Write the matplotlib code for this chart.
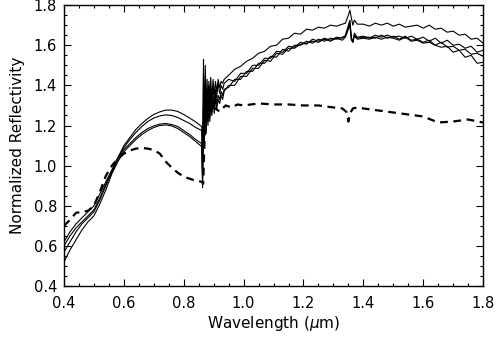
import numpy as np
import matplotlib
matplotlib.use("Agg")
import matplotlib.pyplot as plt
from matplotlib.ticker import MultipleLocator

# wavelength grid for the solid spectra (um)
wl_vis = [0.40, 0.42, 0.44, 0.46, 0.48, 0.50, 0.52, 0.54, 0.56, 0.58, 0.60, 0.62,
          0.64, 0.66, 0.68, 0.70, 0.72, 0.74, 0.76, 0.78, 0.80, 0.82, 0.84, 0.86]
wl_edge = [0.863, 0.866, 0.869, 0.872, 0.875, 0.878, 0.881, 0.884, 0.887, 0.890,
           0.894, 0.898, 0.902, 0.906, 0.910, 0.915, 0.920, 0.925, 0.930, 0.935]
wl_nir = [0.95, 0.97, 0.99, 1.01, 1.03, 1.05, 1.07, 1.09, 1.11, 1.13, 1.15, 1.17,
          1.19, 1.21, 1.23, 1.25, 1.27, 1.29, 1.31, 1.33,
          1.34, 1.35, 1.355, 1.36, 1.365, 1.37, 1.38,
          1.40, 1.42, 1.44, 1.46, 1.48, 1.50, 1.52, 1.54, 1.56, 1.58, 1.60,
          1.62, 1.64, 1.66, 1.68, 1.70, 1.72, 1.74, 1.76, 1.78, 1.80]
wl = wl_vis + wl_edge + wl_nir

refl_a = [0.60, 0.65, 0.69, 0.72, 0.75, 0.78, 0.84, 0.91, 0.97, 1.04, 1.10, 1.14,
          1.18, 1.21, 1.235, 1.255, 1.268, 1.277, 1.277, 1.27, 1.255, 1.237, 1.218, 1.195,
          1.05, 1.45, 1.20, 1.50, 1.25, 1.43, 1.28, 1.42, 1.30, 1.44,
          1.33, 1.43, 1.35, 1.42, 1.37, 1.43, 1.39, 1.42, 1.41, 1.43,
          1.45, 1.48, 1.495, 1.52, 1.535, 1.56, 1.57, 1.595, 1.60, 1.63,
          1.635, 1.66, 1.655, 1.68, 1.675, 1.69, 1.685, 1.70, 1.695, 1.705,
          1.71, 1.75, 1.775, 1.735, 1.70, 1.725, 1.705,
          1.705, 1.695, 1.71, 1.70, 1.71, 1.695, 1.705, 1.69, 1.695, 1.70,
          1.685, 1.70, 1.68, 1.685, 1.665, 1.67, 1.65, 1.655, 1.63, 1.635, 1.61]
refl_b = [0.62, 0.67, 0.71, 0.74, 0.77, 0.80, 0.86, 0.92, 0.98, 1.04, 1.09, 1.13,
          1.165, 1.195, 1.22, 1.237, 1.248, 1.253, 1.25, 1.24, 1.225, 1.21, 1.19, 1.175,
          0.95, 1.53, 1.15, 1.40, 1.22, 1.38, 1.25, 1.40, 1.28, 1.37,
          1.31, 1.40, 1.33, 1.38, 1.34, 1.41, 1.36, 1.40, 1.38, 1.41,
          1.43, 1.42, 1.46, 1.46, 1.50, 1.50, 1.535, 1.535, 1.57, 1.565,
          1.595, 1.59, 1.615, 1.605, 1.63, 1.62, 1.635, 1.625, 1.64, 1.635,
          1.65, 1.70, 1.725, 1.64, 1.615, 1.66, 1.64,
          1.645, 1.635, 1.65, 1.64, 1.65, 1.64, 1.645, 1.635, 1.645, 1.63,
          1.64, 1.62, 1.635, 1.61, 1.625, 1.60, 1.605, 1.585, 1.595, 1.565, 1.575]
refl_c = [0.57, 0.62, 0.67, 0.71, 0.74, 0.77, 0.83, 0.90, 0.97, 1.03, 1.08, 1.11,
          1.14, 1.165, 1.185, 1.198, 1.207, 1.21, 1.205, 1.195, 1.175, 1.155, 1.13, 1.11,
          0.89, 1.30, 1.10, 1.45, 1.18, 1.36, 1.22, 1.33, 1.24, 1.36,
          1.27, 1.35, 1.29, 1.36, 1.31, 1.35, 1.33, 1.37, 1.35, 1.38,
          1.39, 1.43, 1.43, 1.47, 1.47, 1.51, 1.51, 1.545, 1.54, 1.58,
          1.57, 1.60, 1.60, 1.62, 1.61, 1.63, 1.62, 1.635, 1.63, 1.64,
          1.645, 1.69, 1.71, 1.63, 1.62, 1.65, 1.635,
          1.64, 1.64, 1.635, 1.65, 1.635, 1.645, 1.63, 1.645, 1.625, 1.63,
          1.615, 1.625, 1.60, 1.615, 1.59, 1.595, 1.575, 1.58, 1.555, 1.56, 1.545]
refl_d = [0.52, 0.58, 0.63, 0.68, 0.72, 0.75, 0.81, 0.88, 0.96, 1.02, 1.07, 1.10,
          1.13, 1.155, 1.175, 1.19, 1.20, 1.203, 1.198, 1.185, 1.165, 1.145, 1.12, 1.095,
          0.92, 1.20, 1.14, 1.35, 1.16, 1.30, 1.20, 1.32, 1.22, 1.30,
          1.25, 1.33, 1.26, 1.34, 1.28, 1.33, 1.31, 1.35, 1.33, 1.37,
          1.40, 1.40, 1.445, 1.445, 1.485, 1.485, 1.525, 1.52, 1.56, 1.555,
          1.585, 1.585, 1.605, 1.61, 1.62, 1.615, 1.63, 1.62, 1.635, 1.625,
          1.64, 1.68, 1.70, 1.625, 1.615, 1.645, 1.63,
          1.635, 1.63, 1.64, 1.63, 1.64, 1.635, 1.625, 1.64, 1.62, 1.625,
          1.61, 1.615, 1.60, 1.59, 1.595, 1.565, 1.575, 1.54, 1.55, 1.51, 1.515]

# dashed spectrum
wl_dash = [0.40, 0.42, 0.44, 0.46, 0.48, 0.50, 0.52, 0.54, 0.56, 0.58, 0.60, 0.62,
           0.64, 0.66, 0.68, 0.70, 0.72, 0.74, 0.76, 0.78, 0.80, 0.82, 0.84, 0.86,
           0.865, 0.87, 0.875, 0.88, 0.89, 0.90, 0.92, 0.94, 0.96, 0.98, 1.00,
           1.05, 1.10, 1.15, 1.20, 1.25, 1.30, 1.33, 1.345, 1.35, 1.355, 1.365,
           1.38, 1.40, 1.45, 1.50, 1.55, 1.60, 1.65, 1.70, 1.75, 1.80]
refl_dash = [0.70, 0.73, 0.765, 0.77, 0.775, 0.80, 0.87, 0.95, 1.00, 1.035, 1.06, 1.075,
             1.085, 1.088, 1.085, 1.078, 1.06, 1.02, 0.99, 0.965, 0.945, 0.935, 0.925, 0.92,
             0.91, 1.15, 1.30, 1.24, 1.28, 1.29, 1.27, 1.30, 1.29, 1.305, 1.30,
             1.31, 1.305, 1.305, 1.30, 1.30, 1.29, 1.285, 1.265, 1.22, 1.26, 1.285,
             1.29, 1.285, 1.275, 1.265, 1.255, 1.245, 1.215, 1.22, 1.23, 1.215]

fig = plt.figure(figsize=(4.96, 3.39), dpi=100)
ax = fig.add_axes([0.129, 0.156, 0.845, 0.829])

for r in [refl_a, refl_b, refl_c, refl_d]:
    ax.plot(wl, r, color='black', lw=0.8)
ax.plot(wl_dash, refl_dash, color='black', lw=1.6, linestyle=(0, (3.5, 2.5)))

ax.set_xlim(0.4, 1.8)
ax.set_ylim(0.4, 1.8)
ax.xaxis.set_major_locator(MultipleLocator(0.2))
ax.xaxis.set_minor_locator(MultipleLocator(0.05))
ax.yaxis.set_major_locator(MultipleLocator(0.2))
ax.yaxis.set_minor_locator(MultipleLocator(0.05))
ax.tick_params(which='both', direction='in', top=True, right=True, labelsize=10.5)
ax.tick_params(which='major', length=5, width=0.8)
ax.tick_params(which='minor', length=2.5, width=0.8)
ax.tick_params(axis='x', pad=7)
ax.tick_params(axis='y', pad=5)
ax.xaxis.set_major_formatter(plt.FuncFormatter(lambda v, p: f"{v:.1f}"))
ax.yaxis.set_major_formatter(plt.FuncFormatter(lambda v, p: f"{v:.1f}"))
for s in ax.spines.values():
    s.set_linewidth(1.0)

ax.set_xlabel(r"Wavelength ($\mu$m)", fontsize=11, labelpad=2)
ax.set_ylabel("Normalized Reflectivity", fontsize=11, labelpad=6)

fig.savefig("out.png", dpi=100)
